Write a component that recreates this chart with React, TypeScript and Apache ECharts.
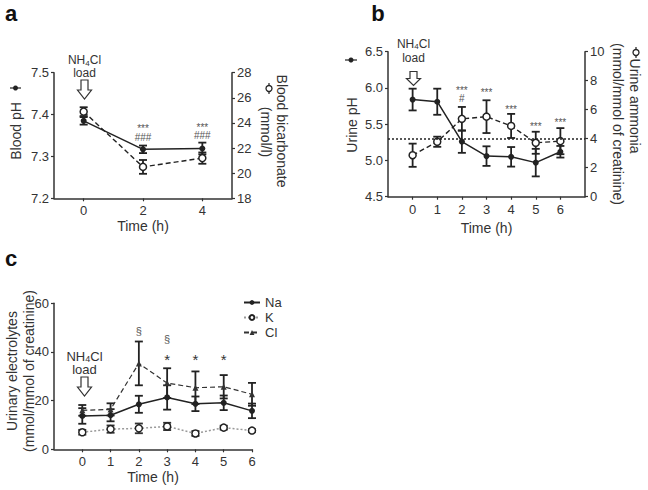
import React, { useEffect, useRef } from "react";
import * as echarts from "echarts";

// ---------- data ----------
// panel a
const timeA = [0, 2, 4];
const bloodPH = [7.385, 7.317, 7.319];
const bloodPHErr = [0.009, 0.009, 0.014];
const bicarb = [24.9, 20.5, 21.2];
const bicarbErr = [0.35, 0.55, 0.45];
const annotAX = [2, 4];
const annotAY = [7.356, 7.359];
const annotAText = ["***\n###", "***\n###"];

// panel b
const timeB = [0, 1, 2, 3, 4, 5, 6];
const urinePH = [5.84, 5.81, 5.26, 5.06, 5.05, 4.97, 5.12];
const urinePHErr = [0.15, 0.18, 0.155, 0.135, 0.135, 0.19, 0.08];
const ammonia = [2.86, 3.79, 5.37, 5.52, 4.88, 3.72, 3.83];
const ammoniaErr = [0.8, 0.35, 0.82, 1.13, 0.83, 0.76, 0.9];
const thresholdPH = 5.3;
const annotBX = [2, 3, 4, 5, 6];
const annotBY = [5.905, 5.94, 5.7, 5.467, 5.526];
const annotBText = ["***\n#", "***", "***", "***", "***"];

// panel c
const timeC = [0, 1, 2, 3, 4, 5, 6];
const na = [13.7, 14.0, 18.5, 21.3, 18.7, 19.1, 15.8];
const naErr = [3.2, 2.5, 3.5, 5.0, 3.0, 3.0, 3.0];
const k = [7.0, 8.3, 8.6, 9.4, 6.5, 8.9, 7.7];
const kErr = [1.0, 1.5, 2.0, 1.5, 1.0, 0.8, 0.5];
const cl = [16.0, 16.4, 35.3, 27.2, 25.3, 25.7, 22.6];
const clErr = [2.2, 2.5, 9.0, 6.1, 6.7, 4.8, 4.7];
const annotCX = [2, 3];
const annotCY = [48.7, 45.3];
const annotCText = ["§", "§"];
const starCX = [3, 4, 5];
const starCY = [36.7, 36.7, 36.7];
const starCText = ["*", "*", "*"];

const ticksA = [0, 2, 4];
const ticksB = [0, 1, 2, 3, 4, 5, 6];
const ticksC = [0, 1, 2, 3, 4, 5, 6];

// ---------- styling helpers ----------
const FONT = "'Liberation Sans', Arial, Helvetica, sans-serif";
const AX = "#333";
const TXT = "#333";
const TITLE = 14;

function xAxisCfg(gridIndex: number, min: number, max: number, ticks: number[], nameGap: number) {
  return {
    type: "value",
    gridIndex,
    min,
    max,
    name: "Time (h)",
    nameLocation: "middle",
    nameGap,
    nameTextStyle: { fontSize: TITLE, color: TXT, fontFamily: FONT },
    axisLine: { show: true, onZero: false, lineStyle: { color: AX, width: 1.5 } },
    axisTick: { show: true, customValues: ticks, length: 3, lineStyle: { color: AX, width: 1.2 } },
    axisLabel: { customValues: ticks, fontSize: 13, color: TXT, margin: 6, fontFamily: FONT },
    splitLine: { show: false },
  };
}

function yAxisCfg(
  gridIndex: number,
  position: string,
  min: number,
  max: number,
  interval: number,
  decimals: number
) {
  return {
    type: "value",
    gridIndex,
    position,
    min,
    max,
    interval,
    axisLine: { show: true, onZero: false, lineStyle: { color: AX, width: 1.5 } },
    axisTick: { show: true, inside: false, length: 3, lineStyle: { color: AX, width: 1.2 } },
    axisLabel: {
      fontSize: 13,
      color: TXT,
      margin: 5,
      fontFamily: FONT,
      formatter: (v: number) => v.toFixed(decimals),
    },
    splitLine: { show: false },
  };
}

function errSeries(xi: number, yi: number, xs: number[], ys: number[], es: number[], color: string) {
  return {
    type: "custom",
    xAxisIndex: xi,
    yAxisIndex: yi,
    silent: true,
    z: 3,
    itemStyle: { color },
    data: xs.map((x, i) => [x, ys[i] - es[i], ys[i] + es[i]]),
    encode: { x: 0, y: [1, 2] },
    renderItem: (params: any, api: any) => {
      const x = api.value(0);
      const lo = api.coord([x, api.value(1)]);
      const hi = api.coord([x, api.value(2)]);
      const w = 4;
      const style = { stroke: color, lineWidth: 1.8 };
      return {
        type: "group",
        children: [
          { type: "line", shape: { x1: lo[0], y1: lo[1], x2: hi[0], y2: hi[1] }, style },
          { type: "line", shape: { x1: lo[0] - w, y1: lo[1], x2: lo[0] + w, y2: lo[1] }, style },
          { type: "line", shape: { x1: hi[0] - w, y1: hi[1], x2: hi[0] + w, y2: hi[1] }, style },
        ],
      };
    },
  };
}

function textSeries(
  xi: number,
  yi: number,
  xs: number[],
  ys: number[],
  labels: string[],
  fontSize: number,
  color: string,
  lineHeight: number
) {
  return {
    type: "custom",
    xAxisIndex: xi,
    yAxisIndex: yi,
    silent: true,
    z: 6,
    itemStyle: { color },
    data: xs.map((x, i) => [x, ys[i]]),
    encode: { x: 0, y: 1 },
    renderItem: (params: any, api: any) => {
      const p = api.coord([api.value(0), api.value(1)]);
      return {
        type: "text",
        x: p[0],
        y: p[1],
        style: {
          text: labels[params.dataIndex],
          fontSize,
          lineHeight,
          fontFamily: FONT,
          fill: color,
          align: "center",
          verticalAlign: "middle",
          textAlign: "center",
          textVerticalAlign: "middle",
        },
      };
    },
  };
}

function lineSeries(
  name: string,
  xi: number,
  yi: number,
  xs: number[],
  ys: number[],
  opts: {
    lineType: any;
    lineColor: string;
    lineWidth: number;
    symbol: string;
    size: number;
    fill: string;
    border: string;
    borderWidth: number;
  }
) {
  return {
    name,
    type: "line",
    xAxisIndex: xi,
    yAxisIndex: yi,
    data: xs.map((x, i) => [x, ys[i]]),
    symbol: opts.symbol,
    symbolSize: opts.size,
    showSymbol: true,
    z: 4,
    silent: true,
    itemStyle: { color: opts.fill, borderColor: opts.border, borderWidth: opts.borderWidth },
    lineStyle: { color: opts.lineColor, width: opts.lineWidth, type: opts.lineType },
    emphasis: { disabled: true },
  };
}

function arrow(cx: number, ty: number, shaft: number, head: number) {
  return {
    type: "polygon",
    shape: {
      points: [
        [cx - 3.5, ty],
        [cx + 3.5, ty],
        [cx + 3.5, ty + shaft],
        [cx + 7, ty + shaft],
        [cx, ty + shaft + head],
        [cx - 7, ty + shaft],
        [cx - 3.5, ty + shaft],
      ],
    },
    style: { fill: "#fff", stroke: "#333", lineWidth: 1.2 },
  };
}

function txt(x: number, y: number, text: string, fontSize: number, rotation = 0, extra: any = {}) {
  return {
    type: "text",
    x,
    y,
    rotation,
    style: {
      text,
      fontSize,
      fontFamily: FONT,
      fill: TXT,
      align: "center",
      verticalAlign: "middle",
      textAlign: "center",
      textVerticalAlign: "middle",
      ...extra,
    },
  };
}

function nh4cl(x: number, y: number, fs: number) {
  return {
    type: "text",
    x,
    y,
    style: {
      text: "{a|NH}{s|4}{a|Cl}",
      fontFamily: FONT,
      fill: TXT,
      align: "center",
      verticalAlign: "middle",
      textAlign: "center",
      textVerticalAlign: "middle",
      rich: {
        a: { fontSize: fs, fill: TXT, color: TXT, fontFamily: FONT, lineHeight: fs + 2 },
        s: { fontSize: fs - 4, fill: TXT, color: TXT, fontFamily: FONT, lineHeight: fs + 2, verticalAlign: "bottom" },
      },
    },
  };
}

const filled = { symbol: "circle", size: 6, fill: "#222", border: "#222", borderWidth: 0 };
const open = { symbol: "circle", size: 7, fill: "#fff", border: "#222", borderWidth: 1.5 };

export default function App() {
  const ref = useRef<HTMLDivElement>(null);

  useEffect(() => {
    if (!ref.current) return;
    const chart = echarts.init(ref.current, undefined, { renderer: "svg" });

    const option: any = {
      animation: false,
      backgroundColor: "#fff",
      textStyle: { fontFamily: FONT },
      grid: [
        { left: 54, top: 72.7, width: 178, height: 125.6 },
        { left: 388, top: 51.7, width: 197, height: 145 },
        { left: 54, top: 303.3, width: 198, height: 146 },
      ],
      xAxis: [
        xAxisCfg(0, -1, 5, ticksA, 21),
        xAxisCfg(1, -1, 7, ticksB, 24),
        xAxisCfg(2, -1, 6, ticksC, 21),
      ],
      yAxis: [
        yAxisCfg(0, "left", 7.2, 7.5, 0.1, 1),
        yAxisCfg(0, "right", 18, 28, 2, 0),
        yAxisCfg(1, "left", 4.5, 6.5, 0.5, 1),
        yAxisCfg(1, "right", 0, 10, 2, 0),
        yAxisCfg(2, "left", 0, 60, 20, 0),
      ],
      legend: {
        data: ["Na", "K", "Cl"],
        orient: "vertical",
        left: 238,
        top: 291,
        itemWidth: 16,
        itemHeight: 6,
        itemGap: 2,
        selectedMode: false,
        textStyle: { fontSize: 13, color: TXT, fontFamily: FONT },
      },
      series: [
        // panel a
        errSeries(0, 0, timeA, bloodPH, bloodPHErr, "#222"),
        errSeries(0, 1, timeA, bicarb, bicarbErr, "#222"),
        lineSeries("Blood pH", 0, 0, timeA, bloodPH, {
          lineType: "solid", lineColor: "#222", lineWidth: 1.5, ...filled,
        }),
        lineSeries("Blood bicarbonate", 0, 1, timeA, bicarb, {
          lineType: [5, 3], lineColor: "#222", lineWidth: 1.4, ...open,
        }),
        textSeries(0, 0, annotAX, annotAY, annotAText, 10, "#555", 8.5),

        // panel b
        errSeries(1, 2, timeB, urinePH, urinePHErr, "#222"),
        errSeries(1, 3, timeB, ammonia, ammoniaErr, "#222"),
        {
          ...lineSeries("Urine pH", 1, 2, timeB, urinePH, {
            lineType: "solid", lineColor: "#222", lineWidth: 1.5, ...filled,
          }),
          markLine: {
            silent: true,
            symbol: "none",
            label: { show: false },
            lineStyle: { type: [2, 2], color: "#222", width: 1.5 },
            data: [{ yAxis: thresholdPH }],
          },
        },
        lineSeries("Urine ammonia", 1, 3, timeB, ammonia, {
          lineType: [5, 3], lineColor: "#222", lineWidth: 1.4, ...open,
        }),
        textSeries(1, 2, annotBX, annotBY, annotBText, 10, "#555", 8),

        // panel c
        errSeries(2, 4, timeC, k, kErr, "#333"),
        errSeries(2, 4, timeC, cl, clErr, "#222"),
        errSeries(2, 4, timeC, na, naErr, "#222"),
        lineSeries("K", 2, 4, timeC, k, {
          lineType: [2, 2], lineColor: "#999", lineWidth: 1.5, ...open,
        }),
        lineSeries("Cl", 2, 4, timeC, cl, {
          lineType: [5, 3], lineColor: "#333", lineWidth: 1.2, symbol: "triangle", size: 6, fill: "#333", border: "#333", borderWidth: 0,
        }),
        lineSeries("Na", 2, 4, timeC, na, {
          lineType: "solid", lineColor: "#222", lineWidth: 1.5, ...filled,
        }),
        textSeries(2, 4, annotCX, annotCY, annotCText, 11, "#555", 12),
        textSeries(2, 4, starCX, starCY, starCText, 15, "#333", 15),
      ],
      graphic: [
        // panel letters
        txt(11, 13, "a", 22, 0, { fontWeight: "bold", fill: "#111" }),
        txt(378, 13, "b", 22, 0, { fontWeight: "bold", fill: "#111" }),
        txt(11, 258, "c", 22, 0, { fontWeight: "bold", fill: "#111" }),

        // panel a titles
        txt(16, 131, "Blood pH", TITLE, Math.PI / 2),
        { type: "line", shape: { x1: 10, y1: 88, x2: 21, y2: 88 }, style: { stroke: "#222", lineWidth: 1.2 } },
        { type: "circle", shape: { cx: 15.5, cy: 88, r: 2.5 }, style: { fill: "#222" } },
        txt(281.5, 131, "Blood bicarbonate", TITLE, -Math.PI / 2),
        txt(266, 132, "(mmol/l)", TITLE, -Math.PI / 2),
        { type: "line", shape: { x1: 269, y1: 83, x2: 269, y2: 94 }, style: { stroke: "#222", lineWidth: 1.2 } },
        { type: "circle", shape: { cx: 269, cy: 88.5, r: 3 }, style: { fill: "#fff", stroke: "#222", lineWidth: 1.3 } },
        nh4cl(84.5, 60, 12),
        txt(84.5, 73, "load", 12),
        arrow(84.5, 80, 10, 9),

        // panel b titles
        txt(352, 125, "Urine pH", TITLE, Math.PI / 2),
        { type: "line", shape: { x1: 345, y1: 60, x2: 357, y2: 60 }, style: { stroke: "#222", lineWidth: 1.2 } },
        { type: "circle", shape: { cx: 351, cy: 60, r: 2.5 }, style: { fill: "#222" } },
        txt(635, 106, "Urine ammonia", TITLE, -Math.PI / 2),
        txt(617.5, 124, "(mmol/mmol of creatinine)", TITLE, -Math.PI / 2),
        { type: "line", shape: { x1: 636, y1: 47, x2: 636, y2: 58 }, style: { stroke: "#222", lineWidth: 1.2 } },
        { type: "circle", shape: { cx: 636, cy: 52.5, r: 3 }, style: { fill: "#fff", stroke: "#222", lineWidth: 1.3 } },
        nh4cl(413.5, 43.5, 12),
        txt(413.5, 58, "load", 12),
        arrow(413.5, 71.5, 7, 7),

        // panel c titles
        txt(12, 371, "Urinary electrolytes", TITLE, Math.PI / 2),
        txt(28.5, 371, "(mmol/mmol of creatinine)", TITLE, Math.PI / 2),
        nh4cl(84.5, 356, 13),
        txt(84.5, 369.5, "load", 13),
        arrow(84.5, 377, 10, 9),
      ],
    };

    chart.setOption(option);
    return () => {
      chart.dispose();
    };
  }, []);

  return (
    <div
      ref={ref}
      style={{ position: "absolute", left: 0, top: 0, width: 648, height: 490, background: "#fff" }}
    />
  );
}
